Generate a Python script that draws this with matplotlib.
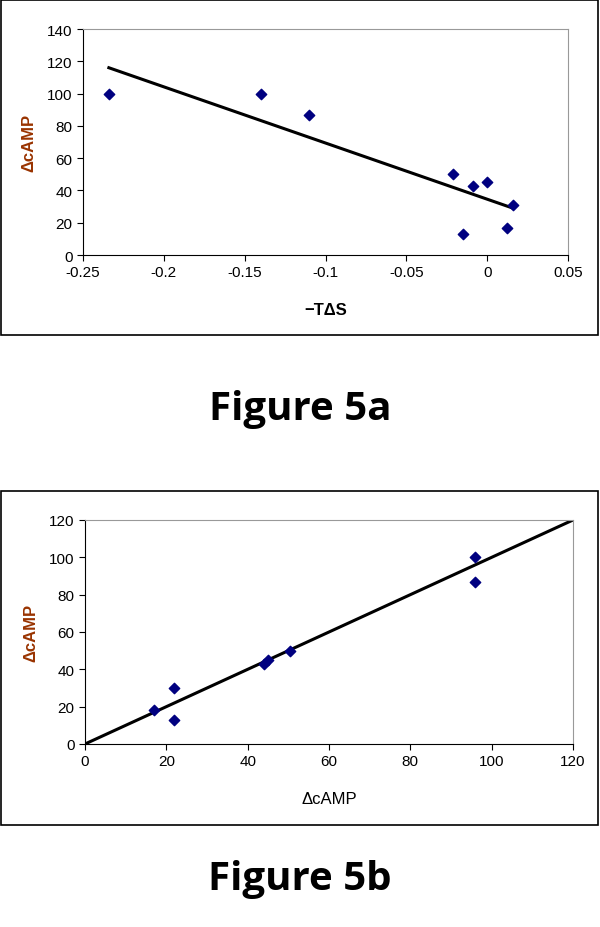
import matplotlib
matplotlib.use("Agg")
import matplotlib.pyplot as plt
from matplotlib.patches import Rectangle

# Figure 5a data
tds_x = [-0.234, -0.14, -0.11, -0.021, -0.009, 0.0, -0.015, 0.012, 0.016]
camp_a = [100, 100, 87, 50, 43, 45, 13, 17, 31]
trend_x = [-0.234, 0.016]
trend_y = [116, 29]
xticks_a = [-0.25, -0.2, -0.15, -0.1, -0.05, 0, 0.05]
xticklabels_a = ["-0.25", "-0.2", "-0.15", "-0.1", "-0.05", "0", "0.05"]
yticks_a = [0, 20, 40, 60, 80, 100, 120, 140]

# Figure 5b data
camp_obs = [17, 22, 22, 44, 45, 50.5, 96, 96]
camp_pred = [18, 30, 13, 43, 45, 50, 100, 87]
ident_x = [0, 120]
ident_y = [0, 120]
ticks_b = [0, 20, 40, 60, 80, 100, 120]

plt.rcParams["font.family"] = ["Liberation Sans", "DejaVu Sans"]
W, H = 600, 928
fig = plt.figure(figsize=(6, 9.28), dpi=100)
fig.patch.set_facecolor("white")

MARK = "#000080"
YLAB = "#993300"


def px_axes(x0, y0, x1, y1):
    return fig.add_axes([x0 / W, 1 - y1 / H, (x1 - x0) / W, (y1 - y0) / H])


def style(ax):
    for s in ("top", "right"):
        ax.spines[s].set_color("#999999")
    for s in ("left", "bottom"):
        ax.spines[s].set_color("black")
    ax.tick_params(direction="out", length=4, labelsize=11, colors="black")


# outer frames
for y0, y1 in [(1, 336), (492, 826)]:
    fig.patches.append(Rectangle((1 / W, 1 - y1 / H), 597 / W, (y1 - y0) / H,
                                 transform=fig.transFigure, fill=False,
                                 edgecolor="black", linewidth=1.2))

# ---- Figure 5a ----
ax1 = px_axes(83, 30, 568, 256)
ax1.plot(trend_x, trend_y, color="black", linewidth=2.2)
ax1.scatter(tds_x, camp_a, marker="D", s=28, color=MARK, zorder=3)
ax1.set_xlim(-0.25, 0.05)
ax1.set_ylim(0, 140)
ax1.set_xticks(xticks_a)
ax1.set_xticklabels(xticklabels_a)
ax1.set_yticks(yticks_a)
style(ax1)
ax1.set_xlabel("\u2212T\u0394S", fontsize=12, fontweight="bold", labelpad=16)
ax1.set_ylabel("\u0394cAMP", fontsize=12, fontweight="bold", color=YLAB, labelpad=8)
fig.text(0.5, 1 - 410 / H, "Figure 5a", ha="center", va="center",
         fontsize=29, fontweight="bold", family="Open Sans")

# ---- Figure 5b ----
ax2 = px_axes(85, 521, 573, 745)
ax2.plot(ident_x, ident_y, color="black", linewidth=2.2)
ax2.scatter(camp_obs, camp_pred, marker="D", s=28, color=MARK, zorder=3)
ax2.set_xlim(0, 120)
ax2.set_ylim(0, 120)
ax2.set_xticks(ticks_b)
ax2.set_yticks(ticks_b)
style(ax2)
ax2.set_xlabel("\u0394cAMP", fontsize=12, labelpad=16)
ax2.set_ylabel("\u0394cAMP", fontsize=12, fontweight="bold", color=YLAB, labelpad=8)
fig.text(0.5, 1 - 880 / H, "Figure 5b", ha="center", va="center",
         fontsize=29, fontweight="bold", family="Open Sans")

fig.savefig("out.png", dpi=100, facecolor="white")
